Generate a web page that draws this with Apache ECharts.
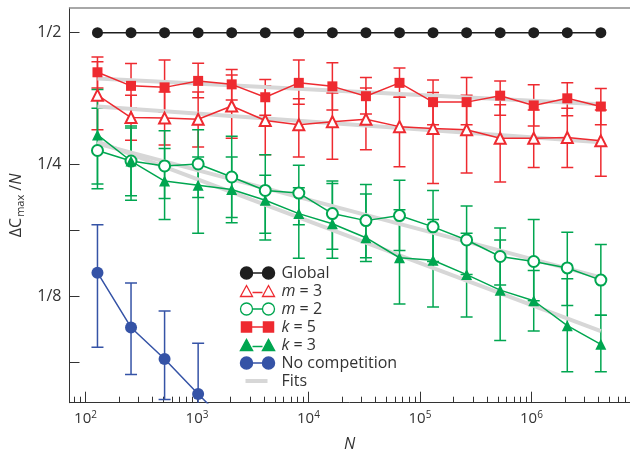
<!DOCTYPE html>
<html>
<head>
<meta charset="utf-8">
<script src="https://cdn.jsdelivr.net/npm/echarts@6/dist/echarts.min.js"></script>
<style>html,body{margin:0;padding:0;background:#fff}#c{width:630px;height:456px}</style>
</head>
<body>
<div id="c"></div>
<script>
// ---- data ----
const N = [128, 256, 512, 1024, 2048, 4096, 8192, 16384, 32768, 65536, 131072, 262144, 524288, 1048576, 2097152, 4194304];
const globalVals = [0.5,0.5,0.5,0.5,0.5,0.5,0.5,0.5,0.5,0.5,0.5,0.5,0.5,0.5,0.5,0.5];

const k5Vals = [0.406,0.378,0.375,0.388,0.381,0.356,0.384,0.377,0.358,0.384,0.347,0.347,0.359,0.341,0.354,0.339];
const k5Hi   = [0.440,0.425,0.433,0.426,0.412,0.391,0.433,0.427,0.395,0.415,0.390,0.395,0.388,0.380,0.384,0.373];
const k5Lo   = [0.374,0.336,0.329,0.355,0.351,0.324,0.343,0.333,0.326,0.356,0.308,0.308,0.324,0.306,0.323,0.308];

const m3Vals = [0.360,0.320,0.319,0.317,0.340,0.315,0.308,0.313,0.317,0.305,0.302,0.300,0.287,0.287,0.288,0.283];
const m3Hi   = [0.429,0.360,0.366,0.366,0.400,0.378,0.353,0.364,0.374,0.356,0.365,0.360,0.342,0.333,0.336,0.333];
const m3Lo   = [0.300,0.284,0.277,0.274,0.287,0.263,0.260,0.257,0.270,0.247,0.226,0.239,0.228,0.246,0.246,0.235];

const m2Vals = [0.269,0.2545,0.248,0.2506,0.234,0.218,0.215,0.193,0.186,0.191,0.180,0.168,0.154,0.150,0.145,0.136];
const m2Hi   = [0.336,0.303,0.2985,0.300,0.290,0.263,0.249,0.229,0.225,0.230,0.218,0.201,0.179,0.187,0.175,0.164];
const m2Lo   = [0.220,0.212,0.209,0.210,0.189,0.174,0.182,0.160,0.153,0.159,0.150,0.140,0.1325,0.122,0.119,0.113];

const k3Vals = [0.292,0.2545,0.229,0.224,0.219,0.207,0.193,0.183,0.170,0.153,0.151,0.140,0.129,0.122,0.107,0.097];
const k3Hi   = [0.371,0.306,0.272,0.260,0.260,0.236,0.221,0.226,0.214,0.197,0.187,0.174,0.168,0.143,0.137,0.113];
const k3Lo   = [0.2255,0.207,0.187,0.174,0.184,0.168,0.1525,0.1525,0.150,0.120,0.118,0.112,0.099,0.104,0.084,0.084];

const noCompN    = [128, 256, 512, 1024, 2048];
const noCompVals = [0.1414,0.106,0.0898,0.0747,0.0625];
const noCompHi   = [0.182,0.134,0.1156,0.0975,0.070];
const noCompLo   = [0.0955,0.0828,0.0726,0.058,0.055];

const fitN  = [128, 4194304];
const fitK5 = [0.393, 0.343];
const fitM3 = [0.339, 0.281];
const fitM2 = [0.279, 0.138];
const fitK3 = [0.282, 0.104];

const xMajorTicks = [100, 1000, 10000, 100000, 1000000];
const xMinorTicks = [80,90,200,300,400,500,600,700,800,900,2000,3000,4000,5000,6000,7000,8000,9000,
  20000,30000,40000,50000,60000,70000,80000,90000,200000,300000,400000,500000,600000,700000,800000,900000,
  2000000,3000000,4000000,5000000,6000000,7000000];
const yMajorTicks = [0.125, 0.25, 0.5];
const yTickLabels = ['1/8', '1/4', '1/2'];
const yMinorTicks = [0.0883883, 0.1767767];

// ---- styling ----
const RED = '#ee2a30', GREEN = '#00a650', BLUE = '#3553a6', BLACK = '#1e1e1e', FIT = '#d7d7d7';
const FONT = '"Open Sans", sans-serif';
const XMIN = 71.83, XMAX = 7.66e6, YMIN = 0.07135, YMAX = 0.5694;

function zip(xs, ys) { return xs.map((x, i) => [x, ys[i]]); }
function zip3(xs, lo, hi) { return xs.map((x, i) => [x, lo[i], hi[i]]); }

function errSeries(color, xs, lo, hi) {
  return {
    type: 'custom', z: 1, clip: true, silent: true,
    encode: { x: 0, y: [1, 2] },
    data: zip3(xs, lo, hi),
    renderItem: function (params, api) {
      const x = api.value(0);
      const pTop = api.coord([x, api.value(2)]);
      const pBot = api.coord([x, api.value(1)]);
      const w = 6;
      const st = { stroke: color, lineWidth: 1.5 };
      return {
        type: 'group',
        children: [
          { type: 'line', shape: { x1: pTop[0], y1: pTop[1], x2: pBot[0], y2: pBot[1] }, style: st },
          { type: 'line', shape: { x1: pTop[0] - w, y1: pTop[1], x2: pTop[0] + w, y2: pTop[1] }, style: st },
          { type: 'line', shape: { x1: pBot[0] - w, y1: pBot[1], x2: pBot[0] + w, y2: pBot[1] }, style: st }
        ]
      };
    }
  };
}

function lineSeries(name, color, xs, ys, symbol, size, filled) {
  return {
    name: name, type: 'line', z: 3,
    data: zip(xs, ys),
    symbol: symbol, symbolSize: size, showSymbol: true,
    lineStyle: { color: color, width: 1.5 },
    itemStyle: filled ? { color: color, borderWidth: 0 } : { color: color, borderColor: color, borderWidth: 1.5 },
    emphasis: { disabled: true },
    animation: false
  };
}
function fitSeries(ys) {
  return {
    name: 'Fits', type: 'line', z: 2, data: zip(fitN, ys), symbol: 'none',
    lineStyle: { color: FIT, width: 4 }, itemStyle: { color: FIT },
    emphasis: { disabled: true }, animation: false
  };
}

const iconCircles = 'path://M0,6a6,6 0 1,0 12,0a6,6 0 1,0 -12,0z M12,6H22 M22,6a6,6 0 1,0 12,0a6,6 0 1,0 -12,0z';
const iconTris = 'path://M0,12L6,1L12,12z M12,8H22 M22,12L28,1L34,12z';
const iconSquares = 'path://M1,1H11V11H1z M11,6H23 M23,1H33V11H23z M0,0 M34,12';
const iconFits = 'path://M0,0 M34,12 M5,6H27';

const chart = echarts.init(document.getElementById('c'), null, { renderer: 'canvas' });
chart.setOption({
  animation: false,
  backgroundColor: '#fff',
  textStyle: { fontFamily: FONT },
  grid: { left: 69.5, top: 8, right: 0, bottom: 53.3, containLabel: false, outerBoundsMode: 'none' },
  xAxis: [
    {
      type: 'log', logBase: 10, min: XMIN, max: XMAX, position: 'bottom',
      axisLine: { show: true, lineStyle: { color: '#333', width: 1 } },
      axisTick: { show: true, inside: true, length: 11, customValues: xMajorTicks, lineStyle: { color: '#333', width: 1 } },
      axisLabel: {
        show: true, customValues: xMajorTicks, margin: 7, color: '#333', fontFamily: FONT,
        formatter: function (v) { const e = Math.round(Math.log10(v)); return '{b|10}{s|' + e + '}'; },
        rich: { b: { fontSize: 15, color: '#333', fontFamily: FONT }, s: { fontSize: 10, color: '#333', fontFamily: FONT, padding: [0, 0, 9, 0] } }
      },
      splitLine: { show: false },
      name: 'N', nameLocation: 'middle', nameGap: 34,
      nameTextStyle: { fontSize: 16, fontStyle: 'italic', color: '#333', fontFamily: FONT }
    },
    {
      type: 'log', logBase: 10, min: XMIN, max: XMAX, position: 'bottom',
      axisLine: { show: false },
      axisTick: { show: true, inside: true, length: 6, customValues: xMinorTicks, lineStyle: { color: '#333', width: 1 } },
      axisLabel: { show: false }, splitLine: { show: false }
    },
    {
      type: 'log', logBase: 10, min: XMIN, max: XMAX, position: 'top',
      axisLine: { show: true, lineStyle: { color: '#8c8c8c', width: 1.5 } },
      axisTick: { show: false }, axisLabel: { show: false }, splitLine: { show: false }
    }
  ],
  yAxis: [
    {
      type: 'log', logBase: 2, min: YMIN, max: YMAX,
      axisLine: { show: true, lineStyle: { color: '#333', width: 1 } },
      axisTick: { show: true, inside: true, length: 10, customValues: yMajorTicks.concat(yMinorTicks), lineStyle: { color: '#333', width: 1 } },
      axisLabel: {
        show: true, customValues: yMajorTicks, margin: 8, fontSize: 16, color: '#333', fontFamily: FONT,
        formatter: function (v) {
          for (let i = 0; i < yMajorTicks.length; i++) if (Math.abs(yMajorTicks[i] - v) < 1e-6) return yTickLabels[i];
          return '';
        }
      },
      splitLine: { show: false },
      name: '{a|ΔC}{s|max}{a| /}{n|N}', nameLocation: 'middle', nameGap: 31, nameRotate: 90,
      nameTextStyle: {
        color: '#333', fontFamily: FONT,
        rich: {
          a: { fontSize: 16, color: '#333', fontFamily: FONT },
          s: { fontSize: 11, color: '#333', fontFamily: FONT, padding: [8, 0, 0, 1] },
          n: { fontSize: 16, color: '#333', fontFamily: FONT, fontStyle: 'italic' }
        }
      }
    }
  ],
  legend: {
    orient: 'vertical', left: 238, top: 264, padding: 0, itemGap: 0,
    itemWidth: 34, itemHeight: 12, selectedMode: false,
    textStyle: {
      fontSize: 16, color: '#333', fontFamily: FONT, lineHeight: 18, padding: [0, 0, 0, 2],
      rich: { i: { fontSize: 16, fontStyle: 'italic', color: '#333', fontFamily: FONT, lineHeight: 18 } }
    },
    formatter: function (name) { return name.replace(/^([mk]) /, '{i|$1} '); },
    data: [
      { name: 'Global', icon: iconCircles, itemStyle: { color: BLACK, borderColor: BLACK, borderWidth: 1.5 } },
      { name: 'm = 3', icon: iconTris, itemStyle: { color: '#fff', borderColor: RED, borderWidth: 1.3 } },
      { name: 'm = 2', icon: iconCircles, itemStyle: { color: '#fff', borderColor: GREEN, borderWidth: 1.3 } },
      { name: 'k = 5', icon: iconSquares, itemStyle: { color: RED, borderColor: RED, borderWidth: 1.5 } },
      { name: 'k = 3', icon: iconTris, itemStyle: { color: GREEN, borderColor: GREEN, borderWidth: 1.5 } },
      { name: 'No competition', icon: iconCircles, itemStyle: { color: BLUE, borderColor: BLUE, borderWidth: 1.5 } },
      { name: 'Fits', icon: iconFits, itemStyle: { color: 'none', borderColor: FIT, borderWidth: 4 } }
    ]
  },
  series: [
    errSeries(RED, N, k5Lo, k5Hi),
    errSeries(RED, N, m3Lo, m3Hi),
    errSeries(GREEN, N, m2Lo, m2Hi),
    errSeries(GREEN, N, k3Lo, k3Hi),
    errSeries(BLUE, noCompN, noCompLo, noCompHi),
    lineSeries('Global', BLACK, N, globalVals, 'circle', 11, true),
    lineSeries('m = 3', RED, N, m3Vals, 'emptyTriangle', 11, false),
    lineSeries('m = 2', GREEN, N, m2Vals, 'emptyCircle', 11, false),
    lineSeries('k = 5', RED, N, k5Vals, 'rect', 10, true),
    lineSeries('k = 3', GREEN, N, k3Vals, 'triangle', 11, true),
    lineSeries('No competition', BLUE, noCompN, noCompVals, 'circle', 12, true),
    fitSeries(fitK5), fitSeries(fitM3), fitSeries(fitM2), fitSeries(fitK3)
  ]
});
</script>
</body>
</html>
